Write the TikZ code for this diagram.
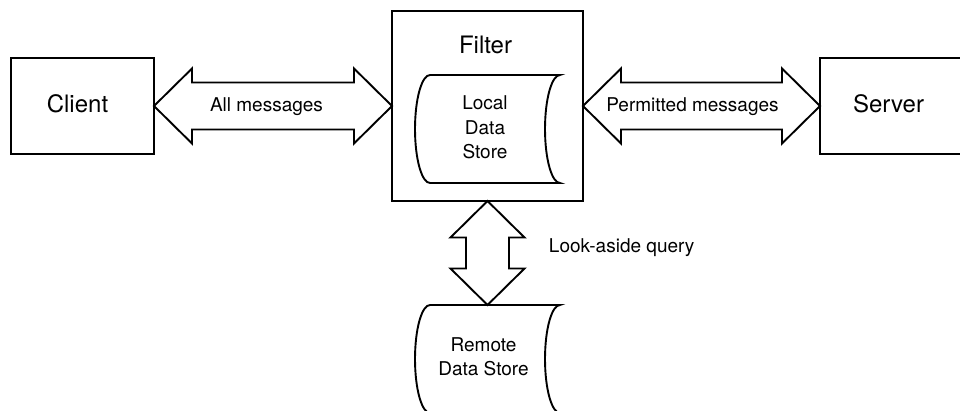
\documentclass[tikz,border=0pt]{standalone}
\usepackage{fontspec}
\setmainfont{TeX Gyre Heros}
\usetikzlibrary{calc}

% outline of a "stored data" symbol around a named node
\newcommand\storeoutline[1]{%
  \draw ([xshift=15pt]#1.north west) -- (#1.north east)
    arc[start angle=90, end angle=270, x radius=15pt, y radius=54pt]
    -- ([xshift=15pt]#1.south west)
    arc[start angle=270, end angle=90, x radius=15pt, y radius=54pt]
    -- cycle;}

\tikzset{
  fat head/.store in=\fatHead,   fat head=38pt,
  fat wing/.store in=\fatWing,   fat wing=37.5pt,
  fat shaft/.store in=\fatShaft, fat shaft=23.5pt,
  % hollow double-headed block arrow; #1 = direction angle
  fatarrow/.style={to path={
    -- ([shift={(#1:\fatHead)},shift={(#1+90:\fatWing)}]\tikztostart)
    -- ([shift={(#1:\fatHead)},shift={(#1+90:\fatShaft)}]\tikztostart)
    -- ([shift={(#1+180:\fatHead)},shift={(#1+90:\fatShaft)}]\tikztotarget)
    -- ([shift={(#1+180:\fatHead)},shift={(#1+90:\fatWing)}]\tikztotarget)
    -- (\tikztotarget)
    -- ([shift={(#1+180:\fatHead)},shift={(#1-90:\fatWing)}]\tikztotarget)
    -- ([shift={(#1+180:\fatHead)},shift={(#1-90:\fatShaft)}]\tikztotarget)
    -- ([shift={(#1:\fatHead)},shift={(#1-90:\fatShaft)}]\tikztostart)
    -- ([shift={(#1:\fatHead)},shift={(#1-90:\fatWing)}]\tikztostart)
    -- cycle}},
  box/.style={draw, rectangle, inner sep=0pt, outer sep=0pt},
  store/.style={rectangle, inner sep=0pt, outer sep=0pt,
    minimum width=145pt, minimum height=108pt},
  bigtext/.style={inner sep=0pt, font=\fontsize{24}{29}\selectfont},
  smalltext/.style={inner sep=0pt, align=center,
    font=\fontsize{19}{24.5}\selectfont},
}

\begin{document}
\begin{tikzpicture}[x=1pt, y=1pt, line width=1.9pt, line join=miter]
  \useasboundingbox (0,0) rectangle (960,-411);
  \fill[white] (0,0) rectangle (960,-411);
  \clip (0,0) rectangle (960,-411);

  % main boxes
  \node[box, minimum width=143pt, minimum height=96pt]  (client) at (82.5,-106) {};
  \node[box, minimum width=191pt, minimum height=190pt] (filter) at (487.5,-106) {};
  \node[box, minimum width=143pt, minimum height=96pt]  (server) at (891.5,-106) {};

  % data stores
  \node[store] (local)  at (487.5,-129) {};
  \node[store] (remote) at (487.5,-359) {};
  \storeoutline{local}
  \storeoutline{remote}

  % box titles
  \node[bigtext, anchor=base] (clientlbl) at (77.5,-113)   {Client};
  \node[bigtext, anchor=base] (serverlbl) at (888.5,-112.5) {Server};
  \node[bigtext, anchor=base] (filterlbl) at (485.5,-54)   {Filter};
  \node[smalltext] (locallbl)  at (485,-127.5)  {Local\\Data\\Store};
  \node[smalltext] (remotelbl) at (483.5,-356.5) {Remote\\Data Store};

  % message flows
  \draw[fatarrow=0] (client.east) to (filter.west);
  \draw[fatarrow=0] (filter.east) to (server.west);
  \draw[fatarrow=-90, fat head=36.5pt, fat wing=37pt, fat shaft=21.5pt]
    (filter.south) to (remote.north);

  % flow labels
  \node[smalltext, anchor=base] (allmsg)  at (266.5,-112) {All messages};
  \node[smalltext, anchor=base] (permmsg) at (692.5,-112) {Permitted messages};
  \node[smalltext, anchor=base west] (lookq) at (548,-253) {Look-aside query};
\end{tikzpicture}
\end{document}
